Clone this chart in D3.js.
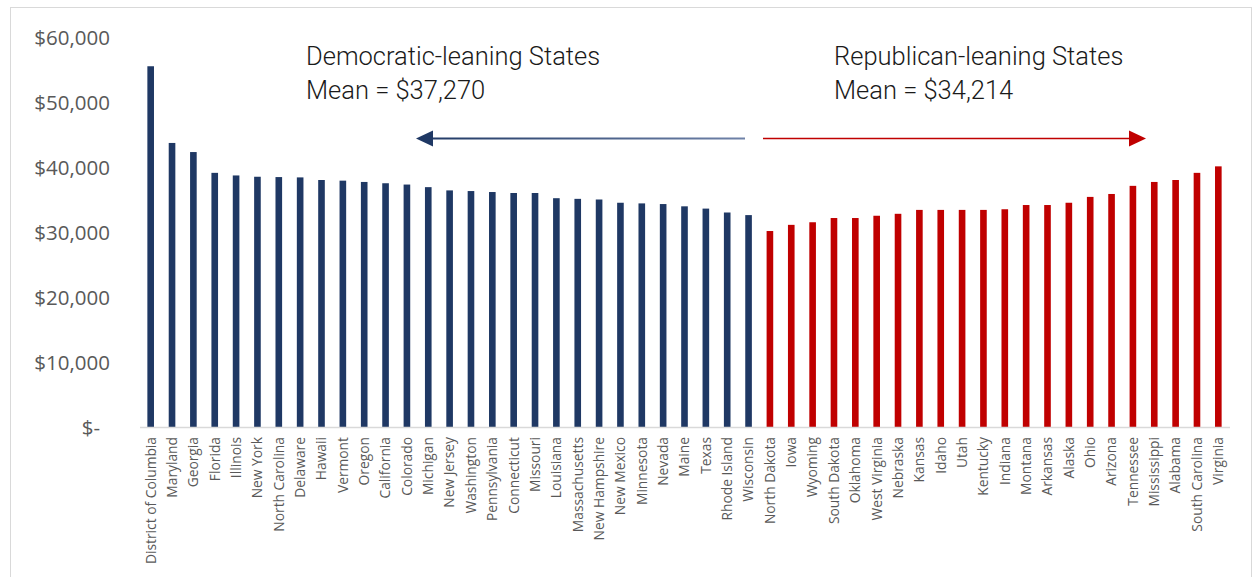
<!DOCTYPE html>
<html>
<head>
<meta charset="utf-8">
<script src="https://cdn.jsdelivr.net/npm/d3@7"></script>
<style>
  html, body { margin: 0; padding: 0; background: #ffffff; }
  svg { display: block; }
</style>
</head>
<body>
<svg id="chart" width="1254" height="577"></svg>
<script>
// ---- Data ----
const demStates = ["District of Columbia","Maryland","Georgia","Florida","Illinois","New York","North Carolina","Delaware","Hawaii","Vermont","Oregon","California","Colorado","Michigan","New Jersey","Washington","Pennsylvania","Connecticut","Missouri","Louisiana","Massachusetts","New Hampshire","New Mexico","Minnesota","Nevada","Maine","Texas","Rhode Island","Wisconsin"];
const demValues = [55500,43700,42300,39100,38700,38500,38450,38400,38000,37900,37700,37500,37300,36900,36400,36300,36150,36000,36000,35200,35100,35000,34500,34400,34300,33950,33600,33000,32600];

const repStates = ["North Dakota","Iowa","Wyoming","South Dakota","Oklahoma","West Virginia","Nebraska","Kansas","Idaho","Utah","Kentucky","Indiana","Montana","Arkansas","Alaska","Ohio","Arizona","Tennessee","Mississippi","Alabama","South Carolina","Virginia"];
const repValues = [30150,31100,31500,32150,32150,32500,32800,33400,33400,33400,33400,33500,34150,34150,34500,35400,35850,37100,37700,38000,39100,40100];

const yTickValues = [0,10000,20000,30000,40000,50000,60000];
const yTickLabels = ["$-","$10,000","$20,000","$30,000","$40,000","$50,000","$60,000"];

const demTitle = "Democratic-leaning States";
const demMean = "Mean = $37,270";
const repTitle = "Republican-leaning States";
const repMean = "Mean = $34,214";

// ---- Build ----
const rows = demStates.map((s,i)=>({state:s, value:demValues[i], group:"dem"}))
  .concat(repStates.map((s,i)=>({state:s, value:repValues[i], group:"rep"})));

const colors = {dem:"#1F3864", rep:"#C00000"};
const svg = d3.select("#chart");

// chart border
svg.append("rect").attr("x",10.5).attr("y",7.5).attr("width",1241).attr("height",570)
  .attr("fill","none").attr("stroke","#d9d9d9").attr("stroke-width",1);

const x = d3.scaleBand().domain(rows.map(d=>d.state)).range([140,1229])
  .paddingInner(0.69).paddingOuter(0.345);
const y = d3.scaleLinear().domain([0,60000]).range([427,37]);

// bars
svg.append("g").selectAll("rect").data(rows).join("rect")
  .attr("x", d=>x(d.state)).attr("width", x.bandwidth())
  .attr("y", d=>y(d.value)).attr("height", d=>y(0)-y(d.value))
  .attr("fill", d=>colors[d.group]);

// baseline
svg.append("line").attr("x1",140).attr("x2",1230).attr("y1",y(0)+0.5).attr("y2",y(0)+0.5)
  .attr("stroke","#d9d9d9").attr("stroke-width",1.5);

// y axis labels
const yAxis = d3.axisLeft(y).tickValues(yTickValues)
  .tickFormat((d,i)=>yTickLabels[i]).tickSize(0).tickPadding(0);
const gy = svg.append("g").attr("transform","translate(110,0)").call(yAxis);
gy.select(".domain").remove();
gy.selectAll("text")
  .attr("font-family","'Open Sans', sans-serif").attr("font-size","20.5px")
  .attr("fill","#595959").attr("dy","0.35em")
  .attr("dx", d=> d===0 ? -10 : 0);

// x axis labels
const xAxis = d3.axisBottom(x).tickSize(0).tickPadding(0);
const gx = svg.append("g").attr("transform",`translate(0,${y(0)})`).call(xAxis);
gx.select(".domain").remove();
gx.selectAll("text")
  .attr("font-family","'Open Sans', sans-serif").attr("font-size","13.8px")
  .attr("fill","#595959")
  .attr("transform","rotate(-90)")
  .attr("text-anchor","end")
  .attr("x",-10).attr("y",0).attr("dy","0.35em");

// annotations
const annFont = "Roboto, sans-serif";
function ann(xp, lines){
  lines.forEach((t,i)=>{
    svg.append("text").attr("x",xp).attr("y",65+i*34)
      .attr("font-family",annFont).attr("font-size","25.5px").attr("font-weight",300)
      .attr("fill","#1a1a1a").text(t);
  });
}
ann(306,[demTitle,demMean]);
ann(834,[repTitle,repMean]);

// arrows
const defs = svg.append("defs");
const grad = defs.append("linearGradient").attr("id","blueGrad")
  .attr("gradientUnits","userSpaceOnUse").attr("x1",416).attr("x2",745).attr("y1",0).attr("y2",0);
grad.append("stop").attr("offset","0%").attr("stop-color","#1F3864");
grad.append("stop").attr("offset","100%").attr("stop-color","#6f82a8");

const ay = 138.5;
svg.append("line").attr("x1",430).attr("x2",745).attr("y1",ay).attr("y2",ay)
  .attr("stroke","url(#blueGrad)").attr("stroke-width",2);
svg.append("path").attr("d",`M416,${ay} L433,${ay-8} L433,${ay+8} Z`).attr("fill","#1F3864");

svg.append("line").attr("x1",763).attr("x2",1131).attr("y1",ay).attr("y2",ay)
  .attr("stroke","#C00000").attr("stroke-width",1.5);
svg.append("path").attr("d",`M1146,${ay} L1129,${ay-8} L1129,${ay+8} Z`).attr("fill","#C00000");
</script>
</body>
</html>
